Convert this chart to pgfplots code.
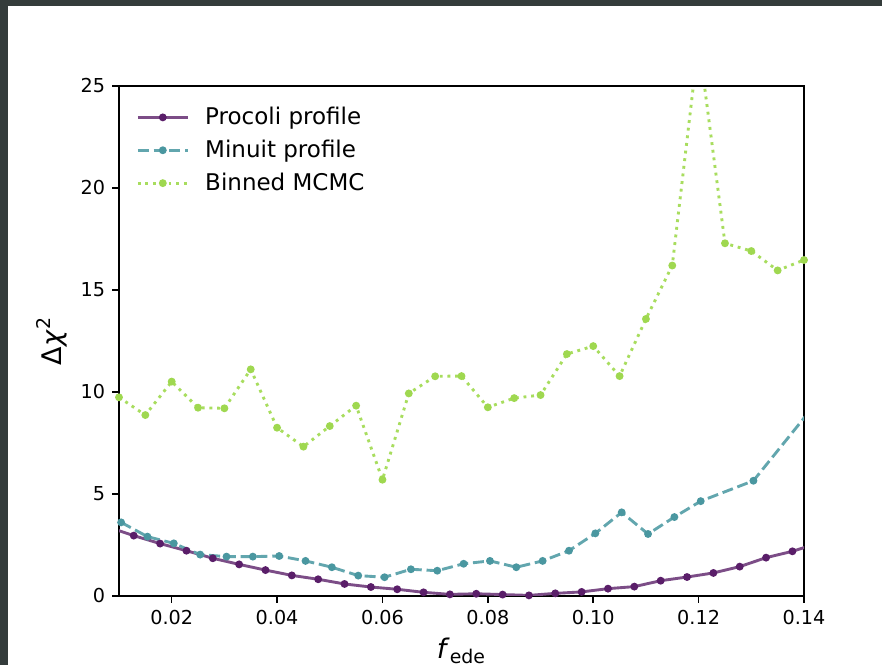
\documentclass[border=0pt]{standalone}
\usepackage{pgfplots}
\pgfplotsset{compat=1.18}
\usepackage{fontspec}
\setmainfont{DejaVu Sans}
\definecolor{frame}{HTML}{343C3B}
\definecolor{procL}{HTML}{7C4D87}
\definecolor{procM}{HTML}{5A1E69}
\definecolor{minL}{HTML}{62A6AE}
\definecolor{minM}{HTML}{4A97A0}
\definecolor{mcL}{HTML}{A8DD5E}
\definecolor{mcM}{HTML}{9FD850}
\begin{document}
\begin{tikzpicture}[x=1pt,y=1pt]
\fill[frame] (0,0) rectangle (441,332.5);
\fill[white] (4,0) rectangle (441,329.5);
\begin{axis}[
  at={(59.5pt,34.5pt)}, anchor=south west,
  scale only axis, width=342.5pt, height=255pt,
  xmin=0.01, xmax=0.14, ymin=0, ymax=25,
  xtick={0.02,0.04,0.06,0.08,0.10,0.12,0.14},
  ytick={0,5,10,15,20,25},
  scaled x ticks=false,
  tick pos=left, tick align=outside,
  major tick length=3.4pt,
  every tick/.style={line width=0.77pt, black},
  axis line style={line width=0.77pt, black},
  x tick label style={/pgf/number format/.cd, fixed, fixed zerofill, precision=2},
  /pgf/number format/assume math mode=true,
  tick label style={font=\fontsize{9.6}{11}\selectfont},
  xlabel={\textit{f}\textsubscript{ede}},
  ylabel={Δ\textit{χ}\textsuperscript{2}},
  label style={font=\fontsize{13.5}{16}\selectfont},
  legend cell align=left,
  legend style={at={(0.016,0.975)}, anchor=north west, draw=none, fill=none,
    font=\fontsize{11.5}{13.5}\selectfont, row sep=2.2pt},
  legend image code/.code={\draw[mark repeat=2,mark phase=2] plot coordinates {(0pt,0pt)(12.5pt,0pt)(25pt,0pt)};\path (31pt,0pt);},
]
\addplot[color=procL, line width=1.44pt, mark=*, mark size=1.2pt, mark options={solid, draw=procM, fill=procM}] coordinates {
(0.0078,3.39) (0.0128,2.96) (0.0178,2.57) (0.0228,2.22) (0.0278,1.85) (0.0328,1.55)
(0.0378,1.27) (0.0428,1.01) (0.0478,0.82) (0.0528,0.59) (0.0578,0.44) (0.0628,0.33)
(0.0678,0.18) (0.0728,0.08) (0.0778,0.11) (0.0828,0.07) (0.0878,0.03) (0.0928,0.13)
(0.0978,0.20) (0.1028,0.36) (0.1078,0.46) (0.1128,0.75) (0.1178,0.93) (0.1228,1.13)
(0.1278,1.44) (0.1328,1.88) (0.1378,2.19) (0.1428,2.60)
};
\addlegendentry{Procoli profile}
\addplot[color=minL, line width=1.44pt, dash pattern=on 5.5pt off 2.4pt, mark=*, mark size=1.2pt, mark options={solid, draw=minM, fill=minM}] coordinates {
(0.0104,3.61) (0.0154,2.91) (0.0204,2.58) (0.0254,2.03) (0.0304,1.93) (0.0354,1.93)
(0.0404,1.96) (0.0454,1.72) (0.0504,1.41) (0.0554,1.00) (0.0604,0.92) (0.0654,1.31)
(0.0704,1.24) (0.0754,1.58) (0.0804,1.72) (0.0854,1.41) (0.0904,1.72) (0.0954,2.22)
(0.1004,3.07) (0.1054,4.10) (0.1104,3.04) (0.1154,3.87) (0.1204,4.65) (0.1304,5.65)
(0.1404,8.85)
};
\addlegendentry{Minuit profile}
\addplot[color=mcL, line width=1.44pt, dash pattern=on 1.44pt off 2.4pt, mark=*, mark size=1.2pt, mark options={solid, draw=mcM, fill=mcM}] coordinates {
(0.010,9.74) (0.015,8.87) (0.020,10.51) (0.025,9.23) (0.030,9.20) (0.035,11.11)
(0.040,8.25) (0.045,7.32) (0.050,8.33) (0.055,9.33) (0.060,5.70) (0.065,9.93)
(0.070,10.77) (0.075,10.78) (0.080,9.25) (0.085,9.70) (0.090,9.85) (0.095,11.86)
(0.100,12.25) (0.105,10.78) (0.110,13.58) (0.115,16.20) (0.120,27.20) (0.125,17.29)
(0.130,16.91) (0.135,15.96) (0.140,16.47)
};
\addlegendentry{Binned MCMC}
\end{axis}
\end{tikzpicture}
\end{document}
